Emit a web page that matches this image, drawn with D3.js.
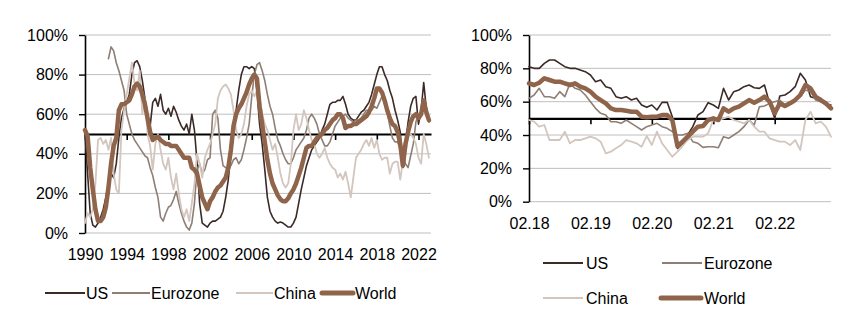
<!DOCTYPE html>
<html>
<head>
<meta charset="utf-8">
<script src="https://cdn.jsdelivr.net/npm/d3@7"></script>
<style>
  body { margin: 0; background: #fff; }
  svg { display: block; font-family: "Liberation Sans", Arial, sans-serif; }
  .line { fill: none; stroke-linejoin: round; stroke-linecap: round; }
</style>
</head>
<body>
<svg width="846" height="321"></svg>
<script>
// ---- long history, quarterly, 1990 Q1 .. 2023 Q1 (share in %) ----
const longStart = 1990;
const longStep = 0.25;

const usLong = [
  50, 30, 10, 4, 3, 5, 8, 12, 18, 25,
  30, 28, 35, 48, 58, 63, 66, 70, 80, 86,
  87, 84, 77, 68, 60, 54, 66, 68, 64, 70,
  62, 60, 63, 59, 64, 61, 57, 54, 52, 55,
  50, 60, 52, 36, 15, 5, 4, 3, 5, 6,
  6, 7, 8, 11, 18, 27, 40, 52, 62, 72,
  80, 84, 84, 83, 84, 83, 72, 55, 45, 32,
  18, 11, 8, 6, 5, 5.5, 5, 4, 3, 3,
  5, 8, 15, 22, 28, 34, 38, 42, 44, 46,
  48, 52, 55, 60, 65, 66, 66, 67, 67, 69,
  65, 60, 58, 57, 57, 59, 61, 62, 64, 66,
  70, 75, 80, 84, 84, 80, 77, 72, 68, 62,
  57, 51, 33, 45, 56, 64, 68, 69, 55, 62,
  76, 63, 58
];

const euroLong = [
  null, null, null, null, null, null, null, null, null, 88,
  94, 92, 86, 82, 77, 72, 60, 55, 50, 47,
  45, 43, 41, 39, 38, 33, 29, 23, 18, 8,
  6, 10, 13, 14, 17, 21, 15, 10, 6, 3,
  1.5, 5, 15, 32, 35, 30, 32, 37, 38, 60,
  62, 58, 42, 34, 33, 32, 34, 37, 38, 35,
  37, 42, 48, 55, 69, 80, 85, 86, 82, 77,
  70, 64, 60, 53, 47, 44, 40, 37, 35, 35,
  38, 42, 44, 46, 48, 52, 58, 60, 58, 55,
  50, 47, 44, 44, 46, 50, 54, 56, 58, 59,
  60, 58, 57, 56, 57, 57, 58, 60, 62, 62,
  62, 64, 63, 66, 69, 65, 61, 54, 48, 46,
  46, 42, 40, 35, 33, 39, 45, 56, 60, 61,
  66, 60, 56
];

const chinaLong = [
  5, 10, 8, 12, 25, 47, 48, 45, 47, 42,
  48, 30, 22, 20, 52, 62, 70, 78, 86, 76,
  72, 82, 60, 68, 50, 44, 32, 45, 50, 42,
  35, 32, 38, 28, 22, 30, 20, 12, 8, 12,
  6, 15, 25, 40, 35, 28, 38, 42, 45, 50,
  55, 68, 72, 74, 75, 73, 70, 62, 52, 48,
  50, 55, 64, 70, 72, 69, 72, 68, 60, 55,
  52, 47, 42, 45, 38, 30, 25, 23, 25, 35,
  52, 60, 52, 55, 62, 58, 52, 47, 45, 40,
  38, 40, 43, 38, 35, 33, 32, 28, 30, 27,
  31, 25, 18, 28, 38, 40, 42, 45, 47, 44,
  48, 43, 47, 40, 37, 38, 38, 30, 35, 36,
  36, 27, 36, 40, 49, 50, 48, 45, 38, 35,
  50, 45, 38
];

const worldLong = [
  52, 49, 33, 22, 12, 6, 6, 8, 13, 23,
  35, 44, 48, 62, 65, 65, 66, 67, 70, 74,
  75.5, 74, 70, 65, 58, 51, 47, 48, 48.6, 47,
  46, 45, 45, 44, 44, 44, 42, 40, 38, 38,
  38, 33, 32, 30, 24, 18, 15, 12, 16, 18,
  21, 23, 24, 26, 28, 33, 42, 54, 60, 63,
  65, 68, 71, 75, 78, 80, 78, 64, 55, 46,
  37, 30, 25, 22, 19, 17, 16, 16, 17.5, 20,
  22, 25, 29, 33, 38, 43, 44, 44, 46, 48,
  49, 50, 52, 53, 55, 57, 58, 60, 60, 58,
  53, 54, 54, 55, 55, 56, 57, 58, 59, 61,
  64, 68, 73, 73, 71, 67, 62, 58, 55, 54,
  51, 45, 34, 45, 51, 56, 59, 60, 58, 60,
  67, 61, 57
];

const longTickYears = [1990, 1994, 1998, 2002, 2006, 2010, 2014, 2018, 2022];

// ---- recent, monthly, 02.2018 .. 01.2023 (share in %) ----
const usShort = [
  81, 80, 80, 83, 85, 85, 83, 81, 80, 80, 79, 78, 76, 72, 73, 69, 68, 63, 62, 63,
  61, 62, 58, 56.6, 58, 55, 59.6, 59.6, 51, 32, 35, 40, 45, 52, 54, 59.4, 58, 56, 68, 61,
  66, 67, 69, 70, 68.4, 68, 70, 59, 50, 63.4, 64, 66, 69, 77, 73, 63, 62, 62, 58, 58
];
const euroShort = [
  62, 64, 68, 63, 63, 62, 66, 63, 71, 68, 67, 64, 60, 56, 53, 52, 48, 48, 47, 49,
  47, 45, 43, 45, 46, 47, 45, 44, 42, 40, 40, 41, 36, 35, 32.6, 33, 33, 32.4, 39, 38,
  40, 42, 45, 49, 46, 57, 57.4, 59, 60, 61, 58, 60, 61, 63, 67, 66, 61, 60, 58, 56
];
const chinaShort = [
  49, 48, 45, 46, 37, 37, 37, 42, 35, 37, 37, 38, 39, 38, 36, 29, 30, 32, 34, 37,
  36, 35, 33, 39.4, 34, 42, 35, 31, 27, 30, 33.4, 37, 39, 39, 39, 41, 49, 49, 50, 51,
  49, 48, 47, 49, 45, 42, 42, 38, 37, 36, 36, 34, 37, 31, 49, 54, 47, 48, 45, 39
];
const worldShort = [
  71, 70, 71.4, 74, 73, 72, 72, 71, 70, 71, 69, 68, 66, 63, 61, 59, 56, 55, 55, 54.6,
  54, 54, 51, 50.6, 51, 51, 52, 52, 49, 33.4, 36, 39, 42, 45, 45.4, 49, 50, 49, 56, 54,
  56, 57, 59, 61, 59.4, 61, 63, 60, 53, 59, 57.4, 59, 61, 64, 70, 68, 63, 61, 59, 56
];

const shortTickMonths = [0, 12, 24, 36, 48];
const shortTickLabels = ['02.18', '02.19', '02.20', '02.21', '02.22'];

const yTicks = [0, 20, 40, 60, 80, 100];

const seriesNames = ['US', 'Eurozone', 'China', 'World'];
const colors = { US: '#3b2a27', Eurozone: '#8e7e74', China: '#d2c6be', World: '#8f644a' };
const widths = { US: 1.6, Eurozone: 1.6, China: 1.8, World: 4.5 };

const svg = d3.select('svg');
const fontSize = 16;

const drawPanel = ({ xScale, yScale, series, tickValues, tickLabels, labelPad }) => {
  const [x0, x1] = xScale.range();
  const g = svg.append('g');

  // horizontal gridlines
  g.selectAll('.grid').data(yTicks)
    .enter().append('line')
    .attr('x1', x0).attr('x2', x1)
    .attr('y1', d => yScale(d)).attr('y2', d => yScale(d))
    .attr('stroke', '#bfbfbf')
    .attr('stroke-width', 1);

  // y axis
  const yAxisG = g.append('g')
    .attr('transform', `translate(${x0},0)`)
    .call(d3.axisLeft(yScale)
      .tickValues(yTicks)
      .tickFormat(d => d + '%')
      .tickSize(6)
      .tickSizeOuter(0)
      .tickPadding(11));
  yAxisG.attr('font-size', fontSize).attr('font-family', null).attr('color', '#000');
  yAxisG.select('.domain').attr('stroke-width', 1.6);
  yAxisG.selectAll('.tick line').attr('stroke-width', 1.4);

  // x axis crossing at 50%
  const xAxisG = g.append('g')
    .attr('transform', `translate(0,${yScale(50)})`)
    .call(d3.axisBottom(xScale)
      .tickValues(tickValues)
      .tickFormat('')
      .tickSize(6)
      .tickSizeOuter(0));
  xAxisG.attr('color', '#000');
  xAxisG.select('.domain').attr('stroke-width', 2.2);
  xAxisG.selectAll('.tick line').attr('stroke-width', 1.6);

  // x labels below the plot
  const labelG = g.append('g')
    .attr('transform', `translate(0,${yScale(0)})`)
    .call(d3.axisBottom(xScale)
      .tickValues(tickValues)
      .tickFormat((d, i) => tickLabels[i])
      .tickSize(0)
      .tickPadding(labelPad));
  labelG.attr('font-size', fontSize).attr('font-family', null).attr('color', '#000');
  labelG.select('.domain').remove();

  // series
  const lineGenerator = d3.line()
    .defined(d => d.v != null)
    .x(d => xScale(d.t))
    .y(d => yScale(d.v));

  g.selectAll('.line').data(series)
    .enter().append('path')
    .attr('class', 'line')
    .attr('stroke', d => colors[d.name])
    .attr('stroke-width', d => widths[d.name])
    .attr('d', d => lineGenerator(d.points));
};

const longSeries = [usLong, euroLong, chinaLong, worldLong].map((arr, k) => ({
  name: seriesNames[k],
  points: arr.map((v, i) => ({ t: longStart + i * longStep, v }))
}));

const shortSeries = [usShort, euroShort, chinaShort, worldShort].map((arr, k) => ({
  name: seriesNames[k],
  points: arr.map((v, i) => ({ t: i, v }))
}));

drawPanel({
  xScale: d3.scaleLinear().domain([1990, 2023.2]).range([85, 431]),
  yScale: d3.scaleLinear().domain([0, 100]).range([233, 35]),
  series: longSeries,
  tickValues: longTickYears,
  tickLabels: longTickYears.map(String),
  labelPad: 15.5
});

drawPanel({
  xScale: d3.scaleLinear().domain([0, 59]).range([529, 831]),
  yScale: d3.scaleLinear().domain([0, 100]).range([201.7, 35]),
  series: shortSeries,
  tickValues: shortTickMonths,
  tickLabels: shortTickLabels,
  labelPad: 16
});

// legends
const legendItems = [
  { name: 'US', x1: 45, x2: 85, tx: 86, y: 293 },
  { name: 'Eurozone', x1: 112, x2: 150, tx: 151, y: 293 },
  { name: 'China', x1: 236, x2: 273, tx: 274, y: 293 },
  { name: 'World', x1: 322, x2: 353, tx: 355, y: 293 },
  { name: 'US', x1: 543, x2: 583, tx: 586, y: 263 },
  { name: 'Eurozone', x1: 662, x2: 702, tx: 704, y: 263 },
  { name: 'China', x1: 543, x2: 583, tx: 586, y: 298 },
  { name: 'World', x1: 661, x2: 701, tx: 704, y: 298 }
];

const legendG = svg.append('g');
legendItems.forEach(d => {
  legendG.append('line')
    .attr('x1', d.x1).attr('x2', d.x2)
    .attr('y1', d.y).attr('y2', d.y)
    .attr('stroke', colors[d.name])
    .attr('stroke-width', d.name === 'World' ? 5 : 2)
    .attr('stroke-linecap', d.name === 'World' ? 'round' : 'butt');
  legendG.append('text')
    .attr('x', d.tx)
    .attr('y', d.y + 6)
    .attr('font-size', fontSize)
    .attr('fill', '#000')
    .text(d.name);
});
</script>
</body>
</html>
